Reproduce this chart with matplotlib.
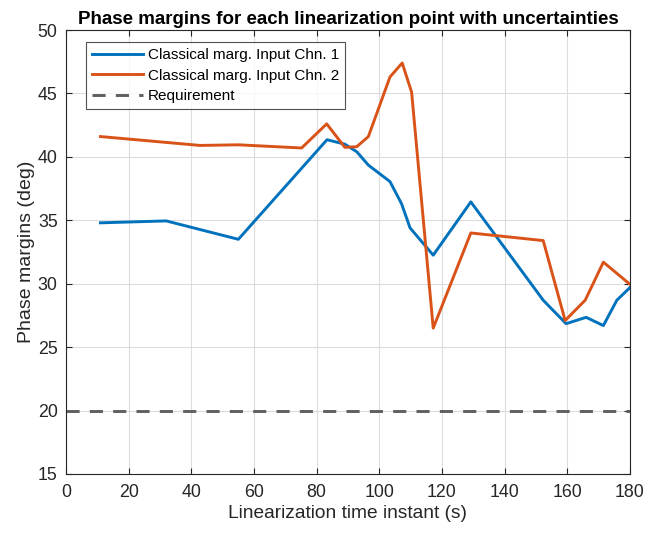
import matplotlib
matplotlib.use("Agg")
import matplotlib.pyplot as plt

# Data
t_ch1 = [11, 32, 55, 83.3, 89, 92.8, 96.5, 103.4, 107.1, 109.8, 117.2, 129.2, 152.3, 159.6, 166, 171.5, 175.8, 180]
pm_ch1 = [34.8, 34.95, 33.5, 41.35, 41.0, 40.4, 39.35, 38.05, 36.3, 34.4, 32.25, 36.45, 28.7, 26.85, 27.35, 26.7, 28.7, 29.7]

t_ch2 = [11, 42.8, 55, 75.2, 83.2, 89, 92.8, 96.5, 103.4, 107.3, 110.3, 117.2, 129.2, 152.3, 159.3, 165.7, 171.5, 180]
pm_ch2 = [41.6, 40.9, 40.95, 40.7, 42.6, 40.75, 40.8, 41.6, 46.3, 47.4, 45.1, 26.5, 34.0, 33.4, 27.1, 28.7, 31.7, 29.95]

req_t = [0, 180]
req_pm = [20, 20]

labels = ["Classical marg. Input Chn. 1", "Classical marg. Input Chn. 2", "Requirement"]
x_ticks = list(range(0, 181, 20))
y_ticks = list(range(15, 51, 5))

plt.rcParams['font.family'] = ['Liberation Sans', 'DejaVu Sans']

fig = plt.figure(figsize=(6.61, 5.33), dpi=100)
ax = fig.add_axes([66/661, 1-474/533, (630-66)/661, (474-30)/533])

ax.plot(t_ch1, pm_ch1, color='#0072BD', lw=2.1, label=labels[0])
ax.plot(t_ch2, pm_ch2, color='#D95319', lw=2.1, label=labels[1])
ax.plot(req_t, req_pm, color='#5f5f5f', lw=2.1, ls=(0, (4.5, 3.5)), label=labels[2])

ax.set_xlim(0, 180)
ax.set_ylim(15, 50)
ax.set_xticks(x_ticks)
ax.set_yticks(y_ticks)
ax.grid(True, color='#dcdcdc', lw=0.8)
ax.set_axisbelow(True)
ax.tick_params(direction='in', top=True, right=True, length=4, width=0.8,
               colors='#262626', labelsize=12.8, labelcolor='#262626')
ax.tick_params(axis='x', pad=7)
ax.tick_params(axis='y', pad=6)
for s in ax.spines.values():
    s.set_color('#262626')
    s.set_linewidth(0.8)

ax.set_xlabel("Linearization time instant (s)", fontsize=13.8, color='#262626', labelpad=3)
ax.set_ylabel("Phase margins (deg)", fontsize=14, color='#262626', labelpad=2)
ax.set_title("Phase margins for each linearization point with uncertainties",
             fontsize=13.5, fontweight='bold', color='black', pad=4.5)

leg = ax.legend(loc='upper left', bbox_to_anchor=(20/564, 1-12/444), fontsize=11,
                frameon=True, fancybox=False, edgecolor='#262626',
                handlelength=3.35, handletextpad=0.3, borderpad=0.4,
                labelspacing=0.42, borderaxespad=0)
leg.get_frame().set_linewidth(0.8)

fig.savefig("out.png", dpi=100)
